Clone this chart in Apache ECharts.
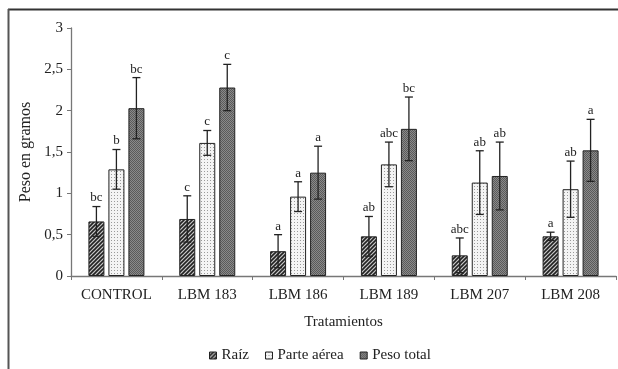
<!DOCTYPE html>
<html><head><meta charset="utf-8">
<script src="https://cdn.jsdelivr.net/npm/echarts@6/dist/echarts.min.js"></script>
<style>html,body{margin:0;padding:0;background:#fff}#c{width:618px;height:369px}</style>
</head><body><div id="c"></div>
<script>
var categories = ['CONTROL','LBM 183','LBM 186','LBM 189','LBM 207','LBM 208'];
var seriesNames = ['Raíz','Parte aérea','Peso total'];
var raiz = [0.66,0.69,0.30,0.48,0.25,0.48];
var raizErr = [0.18,0.28,0.20,0.24,0.21,0.05];
var parte = [1.29,1.61,0.96,1.35,1.13,1.05];
var parteErr = [0.24,0.15,0.18,0.27,0.385,0.34];
var total = [2.03,2.28,1.25,1.78,1.21,1.52];
var totalErr = [0.37,0.28,0.32,0.385,0.41,0.375];
var raizLetters = ['bc','c','a','ab','abc','a'];
var parteLetters = ['b','c','a','abc','ab','ab'];
var totalLetters = ['bc','c','a','bc','ab','a'];
var yTicks = [0,0.5,1,1.5,2,2.5,3];

function makeCanvas(w,h,draw){var c=document.createElement('canvas');c.width=w;c.height=h;draw(c.getContext('2d'));return c;}
var patHatch = makeCanvas(4,4,function(g){
  g.fillStyle='#c8c8c8';g.fillRect(0,0,4,4);
  g.strokeStyle='#222';g.lineWidth=1.6;
  g.beginPath();g.moveTo(-1,5);g.lineTo(5,-1);g.moveTo(-1,1);g.lineTo(1,-1);g.moveTo(3,5);g.lineTo(5,3);g.stroke();
});
var patLight = makeCanvas(3,3,function(g){
  g.fillStyle='#f4f4f4';g.fillRect(0,0,3,3);
  g.fillStyle='#9a9a9a';g.fillRect(0,0,1,1);
});
var patDark = makeCanvas(2,2,function(g){
  g.fillStyle='#8a8a8a';g.fillRect(0,0,2,2);
  g.fillStyle='#5a5a5a';g.fillRect(0,0,1,1);g.fillRect(1,1,1,1);
});
var pats = [patHatch, patLight, patDark];
var vals = [raiz, parte, total];
var errs = [raizErr, parteErr, totalErr];
var lets = [raizLetters, parteLetters, totalLetters];
var offsets = [-20, 0, 20];
var FONT = '"Liberation Serif","Times New Roman",serif';

var chart = echarts.init(document.getElementById('c'), null, {renderer:'canvas'});
var series = [];
seriesNames.forEach(function(n,i){
  series.push({
    name:n, type:'bar', data:vals[i], barWidth:16, barGap:'25%',
    itemStyle:{color:{image:pats[i],repeat:'repeat'}, borderColor:'#222', borderWidth:1},
    emphasis:{disabled:true}
  });
});
seriesNames.forEach(function(n,i){
  series.push({
    type:'custom', silent:true, z:10,
    data: vals[i].map(function(v,k){return [k, v, errs[i][k]];}),
    renderItem:function(params, api){
      var k=api.value(0), v=api.value(1), e=api.value(2);
      var top=api.coord([k, v+e]), bot=api.coord([k, v-e]);
      var x=top[0]+offsets[i];
      var style={stroke:'#222', lineWidth:1.3};
      return {type:'group', children:[
        {type:'line', shape:{x1:x,y1:top[1],x2:x,y2:bot[1]}, style:style},
        {type:'line', shape:{x1:x-4,y1:top[1],x2:x+4,y2:top[1]}, style:style},
        {type:'line', shape:{x1:x-4,y1:bot[1],x2:x+4,y2:bot[1]}, style:style},
        {type:'text', x:x, y:top[1]-2, style:{text:lets[i][k], font:'13px '+FONT, fill:'#222', align:'center', verticalAlign:'bottom'}}
      ]};
    }
  });
});

chart.setOption({
  animation:false,
  textStyle:{fontFamily:FONT},
  grid:{left:71, right:2, top:28, bottom:93},
  legend:{
    data:seriesNames, top:343, left:204, itemWidth:7, itemHeight:7, itemGap:16,
    icon:'rect', textStyle:{fontFamily:FONT, fontSize:15, color:'#222', padding:[0,0,0,0]},
    itemStyle:{borderColor:'#222', borderWidth:1}
  },
  xAxis:{
    type:'category', data:categories, name:'Tratamientos', nameLocation:'middle', nameGap:39,
    nameTextStyle:{fontFamily:FONT, fontSize:15, color:'#222'},
    axisLine:{lineStyle:{color:'#777', width:1.3}},
    axisTick:{show:true, length:4, lineStyle:{color:'#777'}},
    axisLabel:{fontFamily:FONT, fontSize:15, color:'#222', margin:12, interval:0, hideOverlap:false}
  },
  yAxis:{
    type:'value', min:yTicks[0], max:yTicks[yTicks.length-1], interval:0.5,
    name:'Peso en gramos', nameLocation:'middle', nameGap:33, nameRotate:90,
    nameTextStyle:{fontFamily:FONT, fontSize:16, color:'#222'},
    axisLine:{show:true, lineStyle:{color:'#777', width:1.3}},
    axisTick:{show:true, length:4, lineStyle:{color:'#777'}},
    splitLine:{show:false},
    axisLabel:{fontFamily:FONT, fontSize:15, color:'#222', margin:8,
      formatter:function(v){return String(v).replace('.',',');}}
  },
  graphic:[
    {type:'line', shape:{x1:8,y1:9.5,x2:618,y2:9.5}, style:{stroke:'#333', lineWidth:2}},
    {type:'line', shape:{x1:8.5,y1:9,x2:8.5,y2:369}, style:{stroke:'#555', lineWidth:2}}
  ],
  series:series
});
</script></body></html>
